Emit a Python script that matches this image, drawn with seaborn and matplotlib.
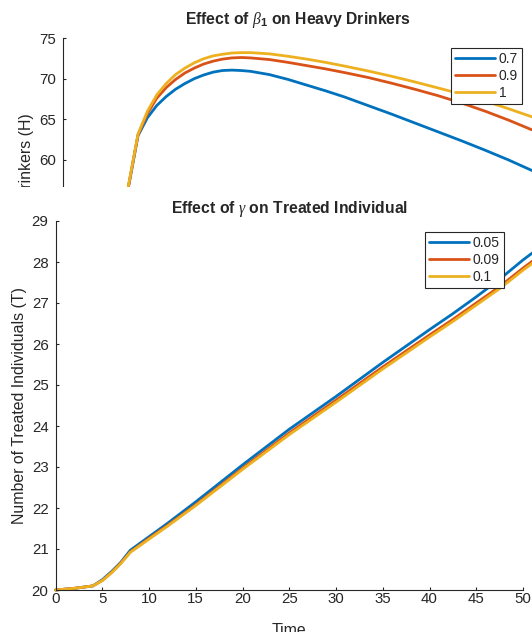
import matplotlib
matplotlib.use('Agg')
import matplotlib.pyplot as plt
from matplotlib.patches import Rectangle
from matplotlib.ticker import MultipleLocator
import pandas as pd
import seaborn as sns

# values

# top panel: heavy drinkers H for three beta_1 values
top_time = [6, 7, 8, 9, 10, 11, 12, 13, 14, 15, 16, 17, 18, 19, 20, 22, 24, 26, 28, 30,
            32.5, 35, 37.5, 40, 42.5, 45, 47.5, 50]
heavy_b07 = [50.5, 56.8, 63.0, 65.2, 66.7, 67.8, 68.7, 69.4, 70.0, 70.45, 70.8, 71.0, 71.05,
             71.0, 70.9, 70.5, 69.9, 69.2, 68.5, 67.75, 66.7, 65.65, 64.55, 63.45, 62.35,
             61.2, 60.0, 58.7]
heavy_b09 = [50.6, 56.9, 63.1, 65.7, 67.6, 68.9, 69.9, 70.7, 71.3, 71.8, 72.15, 72.4, 72.55,
             72.6, 72.55, 72.35, 72.0, 71.6, 71.2, 70.75, 70.15, 69.45, 68.7, 67.9, 67.0,
             66.0, 64.9, 63.7]
heavy_b10 = [50.7, 57.0, 63.2, 66.0, 68.0, 69.4, 70.5, 71.3, 71.95, 72.45, 72.8, 73.0, 73.15,
             73.2, 73.2, 73.05, 72.75, 72.4, 72.0, 71.55, 70.95, 70.3, 69.6, 68.85, 68.1,
             67.25, 66.3, 65.3]
beta_labels = ['0.7', '0.9', '1']

# bottom panel: treated individuals T for three gamma values
bot_time = [0, 1, 2, 3, 4, 5, 6, 7, 8, 10, 12, 15, 20, 25, 30, 35, 40, 42.5, 45, 47.5, 50, 51]
treated_g005 = [20.0, 20.02, 20.04, 20.07, 20.1, 20.25, 20.45, 20.68, 20.97, 21.3, 21.63,
                22.15, 23.05, 23.92, 24.72, 25.55, 26.35, 26.74, 27.15, 27.58, 28.05, 28.22]
treated_g009 = [20.0, 20.02, 20.04, 20.07, 20.1, 20.23, 20.43, 20.66, 20.93, 21.26, 21.58,
                22.08, 22.97, 23.83, 24.63, 25.44, 26.22, 26.6, 27.0, 27.4, 27.85, 28.02]
treated_g010 = [20.0, 20.02, 20.04, 20.07, 20.1, 20.23, 20.42, 20.65, 20.92, 21.24, 21.56,
                22.06, 22.94, 23.79, 24.58, 25.39, 26.17, 26.55, 26.95, 27.35, 27.8, 27.97]
gamma_labels = ['0.05', '0.09', '0.1']

matlab_colors = ['#0072BD', '#D95319', '#EDB120']
dark = '#262626'


def long_frame(t, series, labels, col):
    frames = []
    for s, lab in zip(series, labels):
        frames.append(pd.DataFrame({'Time': t, col: s, 'param': lab}))
    return pd.concat(frames, ignore_index=True)


def matlab_legend(ax, anchor, fig):
    leg = ax.get_legend()
    handles = leg.legend_handles
    labels = [t.get_text() for t in leg.get_texts()]
    for h in handles:
        h.set_linewidth(2)
    ax.legend(handles, labels, loc='upper right', bbox_to_anchor=anchor,
              bbox_transform=fig.transFigure, frameon=True, fancybox=False,
              edgecolor=dark, framealpha=1, borderaxespad=0, handlelength=2.9,
              handletextpad=0.25, labelspacing=0.22, borderpad=0.3, fontsize=10)
    ax.get_legend().get_frame().set_linewidth(0.8)


def style_axis(ax):
    sns.despine(ax=ax)
    ax.tick_params(direction='in', length=2.5, width=0.8, colors=dark, labelsize=10.8)
    ax.tick_params(axis='y', pad=5)
    ax.tick_params(axis='x', pad=1.5)
    for sp in ['left', 'bottom']:
        ax.spines[sp].set_color(dark)
        ax.spines[sp].set_linewidth(0.8)


sns.set_style('ticks')
plt.rcParams['font.family'] = ['Liberation Sans', 'DejaVu Sans']
plt.rcParams['mathtext.fontset'] = 'custom'
plt.rcParams['mathtext.it'] = 'Liberation Serif:italic'
plt.rcParams['mathtext.rm'] = 'Liberation Sans'
plt.rcParams['mathtext.bf'] = 'Liberation Sans:bold'

df_top = long_frame(top_time, [heavy_b07, heavy_b09, heavy_b10], beta_labels, 'H')
df_bot = long_frame(bot_time, [treated_g005, treated_g009, treated_g010], gamma_labels, 'T')

fig = plt.figure(figsize=(5.32, 6.32), dpi=100)

# top subplot, partly hidden behind the lower one
ax_top = fig.add_axes([63 / 532, (632 - 402) / 632, 469 / 532, 364 / 632])
ax_top.set_zorder(0)
sns.lineplot(data=df_top, x='Time', y='H', hue='param', hue_order=beta_labels,
             palette=matlab_colors, linewidth=2, errorbar=None, ax=ax_top)
ax_top.set_xlim(0, 50)
ax_top.set_ylim(75 - 364 / 8.13, 75)
ax_top.yaxis.set_major_locator(MultipleLocator(5))
ax_top.set_xlabel('')
ax_top.set_ylabel('Number of Heavy Drinkers (H)', fontsize=11.4, color=dark, labelpad=3.5)
ax_top.set_title(r'Effect of $\beta_{\mathbf{1}}$ on Heavy Drinkers', fontsize=11.3,
                 fontweight='bold', pad=10)
style_axis(ax_top)
matlab_legend(ax_top, (522 / 532, 1 - 48 / 632), fig)

# white sheet covering the lower part of the top subplot
cover = Rectangle((0, 0), 1, (632 - 187) / 632, transform=fig.transFigure,
                  facecolor='white', edgecolor='none', zorder=1)
fig.add_artist(cover)

ax_bot = fig.add_axes([55.5 / 532, 42 / 632, 467.5 / 532, 369 / 632])
ax_bot.set_zorder(2)
sns.lineplot(data=df_bot, x='Time', y='T', hue='param', hue_order=gamma_labels,
             palette=matlab_colors, linewidth=2, errorbar=None, ax=ax_bot, clip_on=False)
ax_bot.set_xlim(0, 50)
ax_bot.set_ylim(20, 29)
ax_bot.xaxis.set_major_locator(MultipleLocator(5))
ax_bot.yaxis.set_major_locator(MultipleLocator(1))
ax_bot.set_xlabel('Time', fontsize=11.4, color=dark, labelpad=12)
ax_bot.set_ylabel('Number of Treated Individuals (T)', fontsize=11.4, color=dark, labelpad=3.5)
ax_bot.set_title(r'Effect of $\gamma$ on Treated Individual', fontsize=11.3,
                 fontweight='bold', pad=5.5)
style_axis(ax_bot)
matlab_legend(ax_bot, (504 / 532, 1 - 232 / 632), fig)

fig.savefig('out.png', dpi=100)
